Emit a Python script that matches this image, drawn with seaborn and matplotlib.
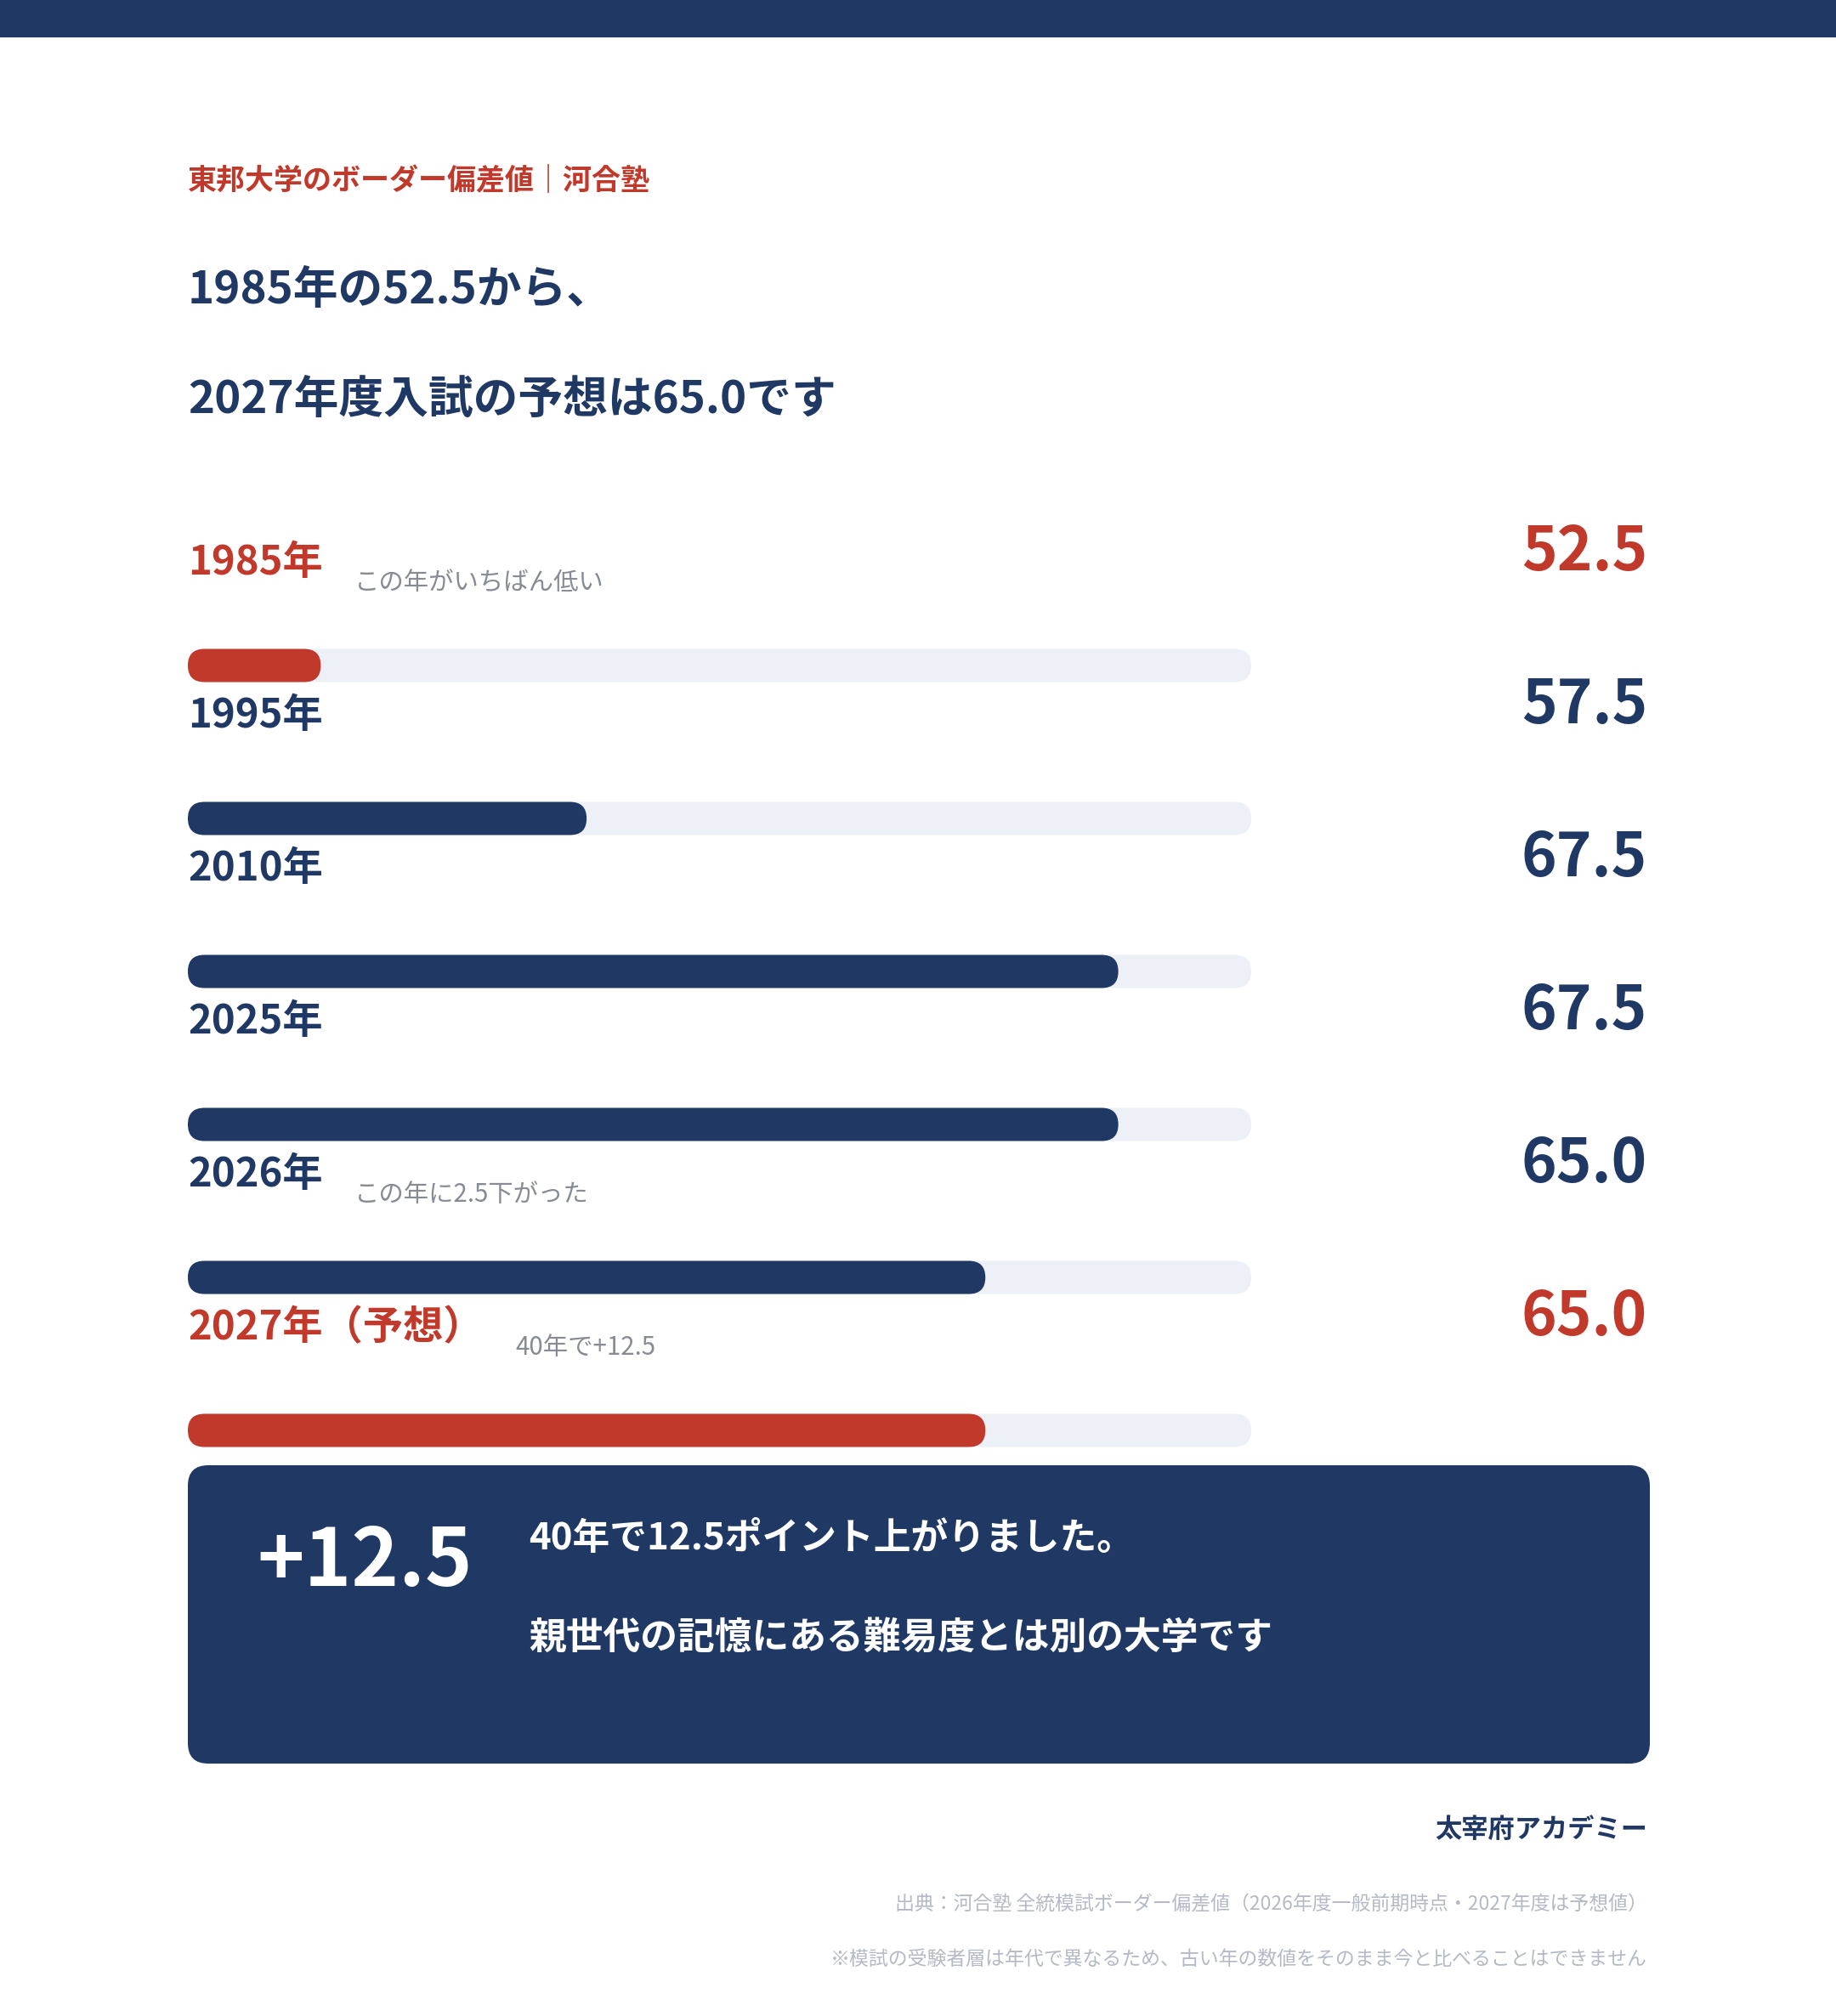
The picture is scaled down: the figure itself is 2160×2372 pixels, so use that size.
import matplotlib
matplotlib.use("Agg")
import matplotlib.pyplot as plt
import seaborn as sns
from matplotlib.patches import FancyBboxPatch, Rectangle

# Border deviation values for Toho University (Kawai-juku)
years = ["1985年", "1995年", "2010年", "2025年", "2026年", "2027年（予想）"]
values = [52.5, 57.5, 67.5, 67.5, 65.0, 65.0]
highlight = [True, False, False, False, False, True]
notes = ["この年がいちばん低い", "", "", "", "この年に2.5下がった", "40年で+12.5"]
scale_min, scale_max = 50, 70

NAVY = "#1f3864"
RED = "#c0392b"
TRACK = "#edf0f7"
GREY = "#868b96"
LIGHT = "#b4b9c6"

sns.set_style("white")
plt.rcParams["font.family"] = ["Noto Sans CJK JP", "DejaVu Sans"]

W, H = 2160, 2372
fig = plt.figure(figsize=(W / 100, H / 100), dpi=100)
fig.patch.set_facecolor("white")

# background axes in pixel units for all the free text
bg = fig.add_axes([0, 0, 1, 1])
bg.set_xlim(0, W)
bg.set_ylim(H, 0)
bg.axis("off")

bg.add_patch(Rectangle((0, 0), W, 44, color=NAVY, lw=0))

bg.text(221, 212, "東邦大学のボーダー偏差値｜河合塾", color=RED, fontsize=24.5,
        fontweight="bold", va="center", ha="left")
bg.text(221, 342, "1985年の52.5から、", color=NAVY, fontsize=38,
        fontweight="bold", va="center", ha="left")
bg.text(221, 470, "2027年度入試の予想は65.0です", color=NAVY, fontsize=38,
        fontweight="bold", va="center", ha="left")

# bar area
x0, x1 = 221, 1472
row_h = 180
first_center = 783
top = first_center - row_h / 2
ax = fig.add_axes([x0 / W, 1 - (top + row_h * len(years)) / H,
                   (x1 - x0) / W, row_h * len(years) / H])

bar_w = 39 / row_h
colors = [RED if h else NAVY for h in highlight]
sns.barplot(x=[scale_max] * len(years), y=years, orient="h", color=TRACK,
            width=bar_w, saturation=1, ax=ax)
sns.barplot(x=values, y=years, hue=years, palette=colors, orient="h",
            width=bar_w, saturation=1, legend=False, ax=ax)
ax.set_xlim(scale_min, scale_max)
ax.set_ylim(len(years) - 0.5, -0.5)
ax.axis("off")

# swap the plain rectangles for rounded capsules starting at the scale minimum
px_per_x = (x1 - x0) / (scale_max - scale_min)
aspect = (1 / row_h) / (1 / px_per_x)
for p in list(ax.patches):
    y, h, right, fc = p.get_y(), p.get_height(), p.get_x() + p.get_width(), p.get_facecolor()
    p.remove()
    r = (h / aspect) / 2
    ax.add_patch(FancyBboxPatch((scale_min, y), right - scale_min, h,
                                boxstyle=f"round,pad=0,rounding_size={r}",
                                mutation_aspect=aspect, fc=fc, ec="none", lw=0))

for i, (yr, v, hl, note) in enumerate(zip(years, values, highlight, notes)):
    c = RED if hl else NAVY
    ax.text(scale_min, i - 0.67, yr, color=c, fontsize=34, fontweight="bold",
            va="center", ha="left", clip_on=False)
    ax.text(1.3725, i - 0.74, f"{v:.1f}", color=c, fontsize=51,
            fontweight="bold", va="center", ha="right", clip_on=False,
            transform=ax.get_yaxis_transform())
    if note:
        nx = 0.1566 if i < 5 else 0.3082
        ax.text(nx, i - 0.54, note, color=GREY, fontsize=21.2, va="center",
                ha="left", clip_on=False, transform=ax.get_yaxis_transform())

# summary box
diff = values[-1] - values[0]
bg.add_patch(FancyBboxPatch((221, 1724), 1720, 351,
                            boxstyle="round,pad=0,rounding_size=24",
                            fc=NAVY, ec="none"))
bg.text(302, 1838, f"+{diff:.1f}", color="white", fontsize=68,
        fontweight="bold", va="center", ha="left")
bg.text(622, 1810, f"40年で{diff:.1f}ポイント上がりました。", color="white",
        fontsize=31.5, fontweight="bold", va="center", ha="left")
bg.text(622, 1927, "親世代の記憶にある難易度とは別の大学です", color="white",
        fontsize=31.5, fontweight="bold", va="center", ha="left")

bg.text(1938, 2153, "太宰府アカデミー", color=NAVY, fontsize=22.5,
        fontweight="bold", va="center", ha="right")
bg.text(1938, 2241, "出典：河合塾 全統模試ボーダー偏差値（2026年度一般前期時点・2027年度は予想値）",
        color=LIGHT, fontsize=16.5, va="center", ha="right")
bg.text(1938, 2305, "※模試の受験者層は年代で異なるため、古い年の数値をそのまま今と比べることはできません",
        color=LIGHT, fontsize=16.5, va="center", ha="right")

fig.savefig("out.png", dpi=100, facecolor="white")
